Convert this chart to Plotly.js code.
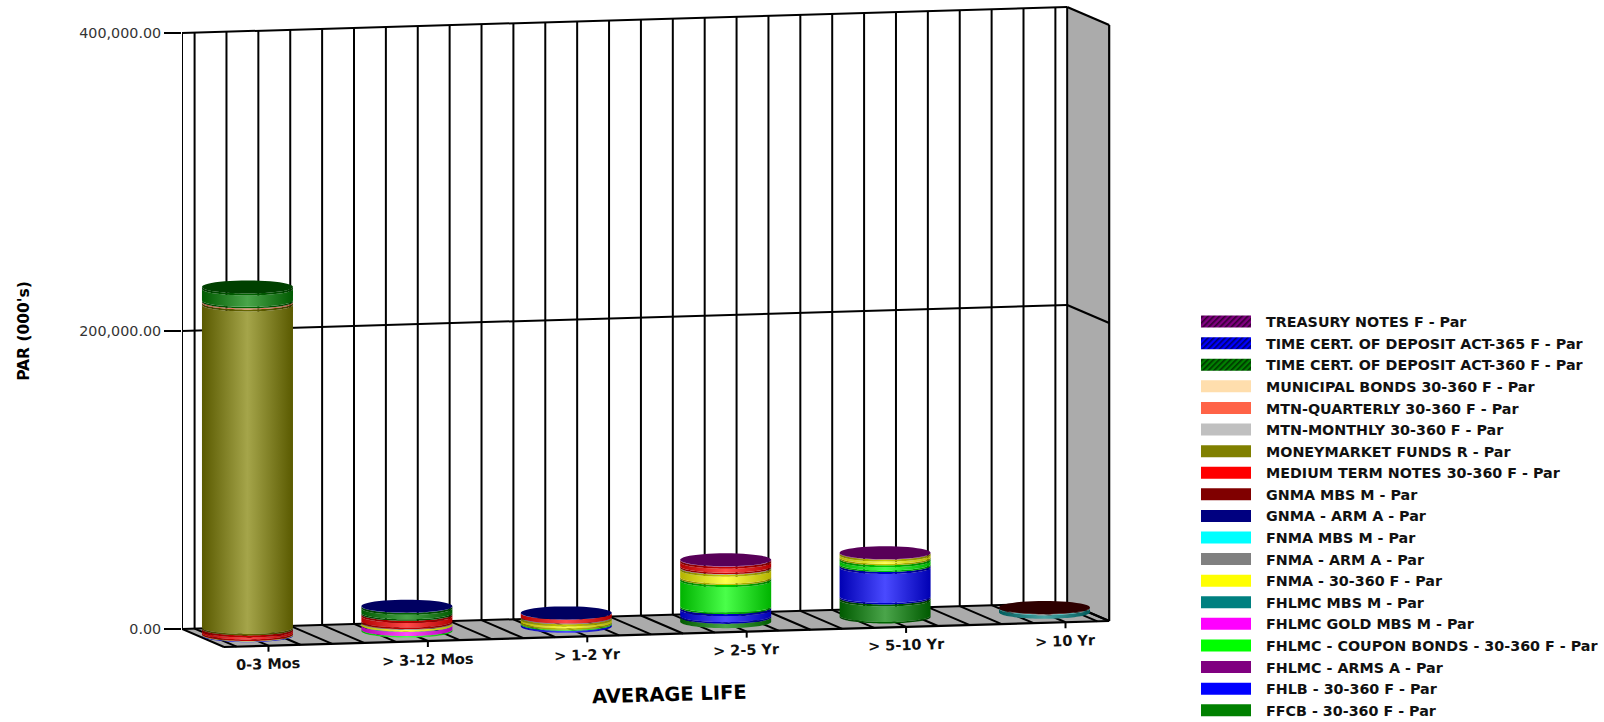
<!DOCTYPE html>
<html>
<head>
<meta charset="utf-8">
<script src="https://cdn.plot.ly/plotly-3.0.1.min.js"></script>
<style>html,body{margin:0;padding:0;background:#fff}#chart{width:1604px;height:722px}</style>
</head>
<body>
<div id="chart"></div>
<script>
// ---- data, one value per average-life bucket, PAR in 000's
const categories = ['0-3 Mos', '> 3-12 Mos', '> 1-2 Yr', '> 2-5 Yr', '> 5-10 Yr', '> 10 Yr'];
const tickValues = [0, 200000, 400000];

const TREASURY_NOTES   = [0, 0, 0, 250, 250, 0];
const TIME_CERT_365    = [0, 120, 120, 0, 0, 0];
const TIME_CERT_360    = [10000, 5300, 0, 0, 0, 0];
const MUNICIPAL_BONDS  = [0, 0, 0, 0, 0, 0];
const MTN_QUARTERLY    = [700, 0, 0, 0, 0, 0];
const MTN_MONTHLY      = [0, 0, 0, 0, 0, 0];
const MONEYMARKET      = [218800, 0, 0, 0, 0, 0];
const MEDIUM_TERM      = [3700, 5600, 2700, 5000, 0, 0];
const GNMA_MBS         = [0, 0, 0, 0, 0, 300];
const GNMA_ARM         = [0, 0, 0, 0, 0, 0];
const FNMA_MBS         = [0, 0, 0, 0, 0, 300];
const FNMA_ARM         = [0, 450, 500, 350, 0, 200];
const FNMA_30_360      = [350, 1300, 3700, 7000, 3800, 0];
const FHLMC_MBS        = [0, 200, 0, 0, 0, 2400];
const FHLMC_GOLD       = [0, 2700, 0, 0, 0, 0];
const FHLMC_COUPON     = [0, 1000, 670, 19500, 4500, 0];
const FHLMC_ARMS       = [0, 0, 0, 0, 0, 0];
const FHLB_30_360      = [500, 0, 1340, 6400, 21800, 0];
const FFCB_30_360      = [0, 0, 0, 3000, 12750, 0];

// legend order, top to bottom
const seriesNames = [
  'TREASURY NOTES F - Par', 'TIME CERT. OF DEPOSIT ACT-365 F - Par', 'TIME CERT. OF DEPOSIT ACT-360 F - Par',
  'MUNICIPAL BONDS 30-360 F - Par', 'MTN-QUARTERLY 30-360 F - Par', 'MTN-MONTHLY 30-360 F - Par',
  'MONEYMARKET FUNDS R - Par', 'MEDIUM TERM NOTES 30-360 F - Par', 'GNMA MBS M - Par', 'GNMA - ARM A - Par',
  'FNMA MBS M - Par', 'FNMA - ARM A - Par', 'FNMA - 30-360 F - Par', 'FHLMC MBS M - Par', 'FHLMC GOLD MBS M - Par',
  'FHLMC - COUPON BONDS - 30-360 F - Par', 'FHLMC - ARMS A - Par', 'FHLB - 30-360 F - Par', 'FFCB - 30-360 F - Par'
];
const seriesValues = [
  TREASURY_NOTES, TIME_CERT_365, TIME_CERT_360, MUNICIPAL_BONDS, MTN_QUARTERLY, MTN_MONTHLY, MONEYMARKET,
  MEDIUM_TERM, GNMA_MBS, GNMA_ARM, FNMA_MBS, FNMA_ARM, FNMA_30_360, FHLMC_MBS, FHLMC_GOLD, FHLMC_COUPON,
  FHLMC_ARMS, FHLB_30_360, FFCB_30_360
];
const seriesColors = [
  [128,0,128],[0,0,255],[0,128,0],[255,222,173],[255,99,71],[192,192,192],[128,128,0],[255,0,0],[128,0,0],[0,0,128],
  [0,255,255],[128,128,128],[255,255,0],[0,128,128],[255,0,255],[0,255,0],[128,0,128],[0,0,255],[0,128,0]
];
const capShade = [0.69, 0.38, 0.5, 0.6, 0.6, 0.6, 0.6, 0.6, 0.36, 0.6, 0.6, 0.6, 0.6, 0.6, 0.6, 0.6, 0.6, 0.6, 0.6];
const hatched = [true, true, true];

// ---- the oblique frame, in axis units
const PER_PX = 671.14;            // value units per pixel
const CAT_PX = 159.4;             // pixels per category
const X_LEFT = -0.279, X_RIGHT = 5.274;
const DEPTH_X = 42 / CAT_PX, DEPTH_Y = 18 * PER_PX, SHEAR = 0.0294 * CAT_PX * PER_PX;
const RX = 45.5 / CAT_PX, RY = 6.5 * PER_PX;
const px = n => n * PER_PX;
const projX = (c, d) => c + d * DEPTH_X;
const projY = (c, d, v) => v + SHEAR * (c - X_LEFT) - d * DEPTH_Y;

// ---- colour helpers
const rgb = a => `rgb(${a.map(n => Math.round(n)).join(',')})`;
const times = (a, f) => a.map(n => n * f);
const mix = (a, f) => a.map(n => n + (255 - n) * f);
const shadeScale = (edge, mid) => [[0, rgb(edge)], [0.5, rgb(mid)], [1, rgb(edge)]];

// ---- marks
const traces = [];
seriesNames.forEach((name, i) => traces.push({
  x: [null], y: [null], type: 'scatter', mode: 'lines', name, hoverinfo: 'skip',
  line: { color: rgb(seriesColors[i]), width: 12 }
}));

const arc = (cx, y0, from, to) => {
  const xs = [], ys = [];
  for (let k = 0; k <= 48; k++) {
    const t = from + (to - from) * k / 48;
    xs.push(cx + RX * Math.cos(t));
    ys.push(y0 - RY * Math.sin(t));
  }
  return [xs, ys];
};
const band = (cx, y0, y1, scale) => {
  const [xa, ya] = arc(cx, y0, Math.PI, 0);
  const [xb, yb] = arc(cx, y1, 0, Math.PI);
  traces.push({
    x: xa.concat(xb), y: ya.concat(yb), type: 'scatter', mode: 'none', fill: 'toself', showlegend: false,
    hoverinfo: 'skip', fillgradient: { type: 'horizontal', colorscale: scale }
  });
};

categories.forEach((cat, c) => {
  const cx = projX(c, 0.5);
  const base = projY(c, 0.445, 0);
  let running = 0, top = -1;
  for (let s = seriesNames.length - 1; s >= 0; s--) {
    const v = seriesValues[s][c];
    if (!v) continue;
    const col = seriesColors[s];
    const y0 = base + running, y1 = y0 + v;
    const body = shadeScale(times(col, 0.7), mix(col, 0.29));
    const rim = shadeScale(times(col, 0.48), times(col, 0.8));
    if (v > px(5)) {
      band(cx, y0, y0 + px(1.5), rim);
      band(cx, y0 + px(1.5), y1 - px(2), body);
      band(cx, y1 - px(2), y1, rim);
    } else {
      band(cx, y0, y1, body);
    }
    running += v;
    top = s;
  }
  // the flat lid, in the shade of the topmost series
  const [xt, yt] = arc(cx, base + running, 0, 2 * Math.PI);
  traces.push({
    x: xt, y: yt, type: 'scatter', mode: 'none', fill: 'toself', showlegend: false, hoverinfo: 'skip',
    fillcolor: rgb(times(seriesColors[top], capShade[top]))
  });
});

// ---- walls and floor
const shapes = [];
const poly = (pts, fill) => shapes.push({
  type: 'path', xref: 'x', yref: 'y', layer: 'below', fillcolor: fill, line: { width: 0 },
  path: 'M' + pts.map(p => p.join(',')).join('L') + 'Z'
});
const seg = (a, b, w) => shapes.push({
  type: 'line', xref: 'x', yref: 'y', layer: 'below', x0: a[0], y0: a[1], x1: b[0], y1: b[1],
  line: { color: '#000', width: w }
});
const pt = (c, d, v) => [projX(c, d), projY(c, d, v)];
const TOP = tickValues[tickValues.length - 1];
poly([pt(X_LEFT, 0, 0), pt(X_RIGHT, 0, 0), pt(X_RIGHT, 1, 0), pt(X_LEFT, 1, 0)], '#ababab');
poly([pt(X_RIGHT, 0, 0), pt(X_RIGHT, 1, 0), pt(X_RIGHT, 1, TOP), pt(X_RIGHT, 0, TOP)], '#ababab');
const minor = [];
for (let k = 0; k <= 27; k++) minor.push(-0.2 + 0.2 * k);
minor.concat([X_LEFT, X_RIGHT]).forEach(c => {
  seg(pt(c, 0, 0), pt(c, 0, TOP), 2);
  seg(pt(c, 0, 0), pt(c, 1, 0), 2);
});
seg(pt(X_RIGHT, 1, 0), pt(X_RIGHT, 1, TOP), 2.2);
tickValues.forEach(v => {
  seg(pt(X_LEFT, 0, v), pt(X_RIGHT, 0, v), 2);
  seg(pt(X_RIGHT, 0, v), pt(X_RIGHT, 1, v), 2.2);
});
seg(pt(X_LEFT, 1, 0), pt(X_RIGHT, 1, 0), 2.2);

// ---- category labels follow the slanted front edge
const FONT = '"DejaVu Sans", sans-serif';
const annotations = categories.map((cat, c) => {
  const f = pt(c, 1, 0);
  shapes.push({ type: 'line', xref: 'x', yref: 'y', layer: 'below', x0: f[0], y0: f[1], x1: f[0], y1: f[1] - px(6), line: { color: '#000', width: 2 } });
  return {
    x: f[0], y: f[1], xref: 'x', yref: 'y', yshift: -18.5, text: cat, showarrow: false, textangle: -1.7,
    font: { family: FONT, size: 14.5, color: '#111', weight: 'bold' }
  };
});
annotations.push({
  x: 2.782, y: projY(2.519, 1, 0), xref: 'x', yref: 'y', yshift: -61, text: 'AVERAGE LIFE', showarrow: false, textangle: -1.7,
  font: { family: FONT, size: 19.5, color: '#000', weight: 'bold' }
});

const PLOT_H = 662;
const layout = {
  width: 1604, height: 722, margin: { l: 182, r: 489, t: 0, b: 722 - PLOT_H, pad: 0 },
  paper_bgcolor: '#fff', plot_bgcolor: 'rgba(0,0,0,0)', hovermode: false,
  xaxis: { range: [X_LEFT, (1115 - 226.5) / CAT_PX], visible: false, fixedrange: true },
  yaxis: {
    range: [(629 - PLOT_H) * PER_PX, 629 * PER_PX], tickmode: 'array', tickvals: tickValues, tickformat: ',.2f',
    ticks: 'outside', ticklen: 17, tickwidth: 2, tickcolor: '#000', showgrid: false, zeroline: false, showline: false,
    tickfont: { family: FONT, size: 14.3, color: '#333' }, fixedrange: true,
    title: { text: "PAR (000's)", standoff: 45, font: { family: FONT, size: 15.5, color: '#000', weight: 'bold' } }
  },
  showlegend: true,
  legend: {
    x: (1196 - 182) / 933, xanchor: 'left', y: 1 - 300 / PLOT_H, yanchor: 'top', itemwidth: 60, traceorder: 'normal',
    bgcolor: 'rgba(0,0,0,0)', borderwidth: 0, itemclick: false, itemdoubleclick: false,
    font: { family: FONT, size: 14.3, color: '#111', weight: 'bold' }
  },
  shapes, annotations
};

Plotly.newPlot('chart', traces, layout, { displayModeBar: false, staticPlot: true }).then(gd => {
  // wider legend swatches, the three deposit/treasury keys hatched
  const svg = gd.querySelector('svg.main-svg');
  const defs = svg.querySelector('defs');
  const NS = 'http://www.w3.org/2000/svg';
  gd.querySelectorAll('.legend .traces').forEach((g, i) => {
    const path = g.querySelector('.legendlines path');
    if (!path) return;
    path.setAttribute('d', 'M5,0h50');
    path.style.strokeWidth = '12px';
    if (hatched[i]) {
      const p = document.createElementNS(NS, 'pattern');
      p.setAttribute('id', 'hatch' + i);
      p.setAttribute('patternUnits', 'userSpaceOnUse');
      p.setAttribute('width', '4'); p.setAttribute('height', '4');
      p.setAttribute('patternTransform', 'rotate(45)');
      p.innerHTML = `<rect width="4" height="4" fill="${rgb(seriesColors[i])}"/><rect width="1.6" height="4" fill="rgba(0,0,0,0.6)"/>`;
      defs.appendChild(p);
      path.style.stroke = `url(#hatch${i})`;
    }
  });
  // nudge the key down to its place, past what the automatic margins allow
  const leg = gd.querySelector('.legend');
  const m = /translate\(([-\d.]+),\s*([-\d.]+)\)/.exec(leg.getAttribute('transform'));
  if (m) leg.setAttribute('transform', `translate(${m[1]},${+m[2] + 5.8})`);
});
</script>
</body>
</html>
